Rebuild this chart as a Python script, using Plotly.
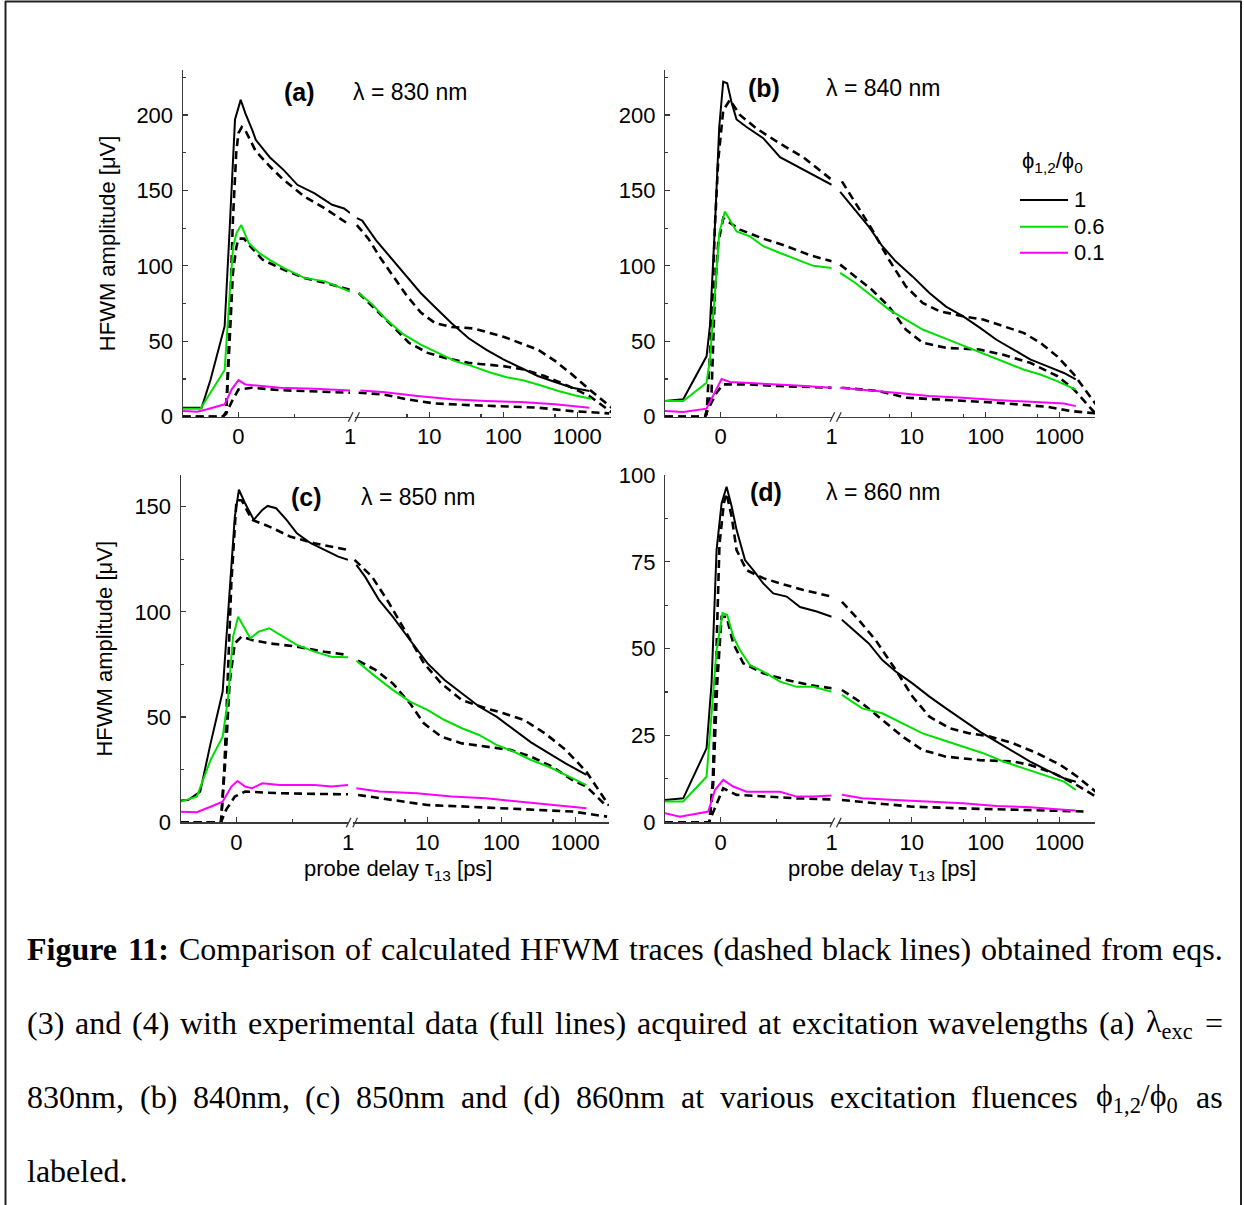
import plotly.graph_objects as go

W, H = 1244, 1205

# ---------------- data (probe delay in ps, amplitude in microvolt) ----------------
# Panel (a) 830 nm
A_T_BLACK = [-0.5, -0.33, -0.25, -0.124, -0.078, -0.031, 0.02, 0.062, 0.124, 0.155, 0.28, 0.404, 0.528, 0.683, 0.84, 0.947, 1.0,
             1.05, 1.24, 1.9, 2.92, 4.48, 7.65, 11.7, 20, 34, 58.5, 100, 171, 292, 499, 852, 1456]
A_Y_BLACK = [6, 6, 24.7, 60, 126, 197, 210, 201, 190, 183.5, 172, 163.6, 153.7, 148, 140.5, 138, 135,
             131.6, 130, 117, 106, 95, 82, 73, 62, 52, 44.5, 38, 32.4, 27, 23, 19.2, 17]
A_T_GREEN = [-0.5, -0.34, -0.25, -0.124, -0.078, -0.047, -0.016, 0.025, 0.093, 0.186, 0.28, 0.404, 0.59, 0.776, 1.0,
             1.11, 1.71, 2.62, 4.48, 7.65, 13, 22.4, 38, 65, 111, 190, 324, 553, 945, 1530]
A_Y_GREEN = [5.3, 5.3, 16, 31, 82, 113, 122, 127, 115, 108.5, 104, 98.6, 92, 89.7, 83,
             82, 74.3, 64.4, 54.5, 47.8, 42.3, 36.8, 33.5, 29.5, 26.2, 24, 20.7, 17, 14, 11.9]
A_T_MAG = [-0.5, -0.37, -0.28, -0.124, -0.062, 0.0, 0.062, 0.155, 0.37, 0.683, 1.0,
           1.17, 2.36, 6.87, 20, 58.5, 171, 499, 1456]
A_Y_MAG = [3.7, 3.3, 4.9, 8.2, 18, 24.3, 21.4, 20.7, 19.2, 18.5, 17.4,
           17.4, 16.3, 13.7, 11.5, 10.4, 9.7, 8.2, 6]
A_T_CALC1 = [-0.5, -0.14, -0.11, -0.08, -0.05, -0.02, 0.0, 0.03, 0.06, 0.155, 0.28, 0.404, 0.59, 0.776, 1.0,
             1.05, 1.5, 2.2, 3.4, 5, 7.7, 12, 20, 40, 100, 292, 500, 850, 1456, 2900]
A_Y_CALC1 = [0, 0, 3, 60, 130, 175, 188, 192, 190, 176, 166, 157, 146, 138, 127,
             127, 118, 105, 92, 80, 69, 62, 59.5, 58.5, 53, 44.5, 37, 28, 18, 6]
A_T_CALC2 = [-0.5, -0.14, -0.11, -0.08, -0.05, -0.02, 0.0, 0.05, 0.093, 0.217, 0.404, 0.59, 0.84, 1.0,
             1.11, 1.9, 3.2, 5.3, 9.5, 16, 34, 100, 190, 360, 680, 1456, 2900]
A_Y_CALC2 = [0, 0, 3, 50, 95, 112, 118, 118, 114, 104, 97.5, 92, 87.5, 84,
             82, 71, 60, 49, 42.3, 39, 35.7, 33.5, 31.3, 27, 21.4, 13.7, 3]
A_T_CALC3 = [-0.5, -0.14, -0.11, -0.06, 0.0, 0.12, 0.37, 0.683, 1.0,
             1.11, 2.36, 5, 11.7, 34, 100, 292, 850, 2700]
A_Y_CALC3 = [0, 0, 2, 10, 18, 19.2, 17.6, 17, 15.9,
             15.9, 14.8, 11.5, 8.8, 7.7, 7, 6, 3.7, 2.2]

# Panel (b) 840 nm
B_T_BLACK = [-0.5, -0.336, -0.126, -0.096, -0.051, -0.012, 0.024, 0.06, 0.1, 0.144, 0.234, 0.384, 0.535, 0.685, 0.835, 1.0,
             1.07, 1.72, 2.61, 3.98, 6.04, 10.2, 17.3, 29, 49, 83, 140, 238, 400, 676, 1146, 1660]
B_Y_BLACK = [10.4, 11.5, 40, 60, 126, 192, 222, 221, 208, 197, 192, 184.6, 172, 166, 160, 153.7,
             149, 137, 126, 113, 103, 93, 82, 73, 66.6, 59, 51, 44.5, 38, 33.5, 29, 24.7]
B_T_GREEN = [-0.5, -0.336, -0.126, -0.096, -0.051, -0.012, 0.039, 0.084, 0.144, 0.264, 0.384, 0.535, 0.685, 0.835, 1.0,
             1.07, 1.72, 2.9, 4.9, 8.3, 14, 23.6, 40, 67, 114, 192, 325, 550, 930, 1660]
B_Y_GREEN = [10.4, 10.4, 22.5, 38, 82, 121.7, 136, 130.5, 122.8, 119.5, 113, 108.5, 104, 100, 98.6,
             95.3, 88.6, 79.8, 71, 64.4, 57.8, 53.4, 49, 44.5, 40, 35.7, 31.3, 28, 23.6, 18]
B_T_MAG = [-0.5, -0.336, -0.126, -0.066, 0.009, 0.084, 0.234, 0.444, 0.685, 1.0,
           1.07, 2.12, 6, 17, 49, 140, 400, 1146, 1660]
B_Y_MAG = [3.7, 3.1, 5.3, 13.7, 25, 23, 22.5, 21.4, 20.7, 19.2,
           19.2, 18, 15.9, 13.7, 12.6, 11, 9.7, 8.8, 7]
B_T_CALC1 = [-0.5, -0.14, -0.126, -0.081, -0.051, -0.021, 0.024, 0.084, 0.174, 0.324, 0.535, 0.745, 1.0,
             1.13, 1.72, 2.9, 4.9, 8.3, 14, 23.6, 49, 92, 173, 325, 550, 930, 1570, 3100]
B_Y_CALC1 = [0, 0, 1.5, 60, 126, 170, 203, 210, 200, 191, 181, 172, 157,
             156, 142, 124, 104, 86.4, 75.4, 70, 66.6, 64.4, 60, 55.6, 49, 40, 28, 8.2]
B_T_CALC2 = [-0.5, -0.14, -0.081, -0.051, -0.021, 0.024, 0.174, 0.384, 0.595, 0.805, 1.0,
             1.07, 1.72, 2.9, 4.9, 8.3, 14, 29, 83, 173, 400, 930, 1570, 3000]
B_Y_CALC2 = [0, 0, 16, 82, 115, 131.6, 124, 118, 113, 107, 103,
             100.8, 93, 84, 73, 57.8, 49, 45.6, 44.5, 41, 35.7, 27, 18, 2.6]
B_T_CALC3 = [-0.5, -0.14, -0.111, -0.036, 0.024, 0.234, 0.535, 1.0,
             1.13, 3.58, 8.3, 29, 140, 676, 1440, 3100]
B_Y_CALC3 = [0, 0, 5, 16, 21.4, 21.4, 20.3, 19.2,
             19.2, 17, 12.6, 11, 9.3, 6.6, 3.7, 2.2]

# Panel (c) 850 nm
C_T_BLACK = [-0.5, -0.433, -0.325, -0.232, -0.124, -0.077, -0.015, 0.022, 0.077, 0.155, 0.232, 0.279, 0.356, 0.449, 0.542,
             0.666, 0.789, 0.913, 1.0,
             1.1, 1.44, 2.22, 3.41, 5.83, 10, 17.1, 29.3, 50, 86, 147, 252, 430, 737, 1413]
C_Y_BLACK = [10.3, 10.6, 14.6, 37.5, 62, 97.7, 145, 158, 151.6, 143.7, 148.4, 150.3, 149.2, 143.7, 137.3,
             132.6, 129.4, 126.2, 124.7,
             122.3, 116.7, 105.7, 97.7, 86.6, 75.6, 67.6, 61.3, 55, 50.2, 44, 38, 33, 28, 22.5]
C_T_GREEN = [-0.5, -0.356, -0.232, -0.124, -0.077, -0.031, 0.015, 0.062, 0.124, 0.2, 0.294, 0.418, 0.542, 0.697, 0.851, 1.0,
             1.1, 2, 3.41, 5.83, 10, 17.1, 29.3, 50, 86, 147, 252, 430, 737, 1413]
C_Y_GREEN = [9.8, 12.2, 29.6, 40.7, 58, 88, 97.7, 93, 87.4, 90.6, 92.2, 88.2, 84.3, 81.1, 78.7, 78.4,
             76.8, 69.2, 62.9, 57.3, 53.4, 48.6, 44.7, 41.5, 36.8, 33.6, 29.6, 26.5, 22.5, 17.7]
C_T_MAG = [-0.5, -0.356, -0.232, -0.124, -0.046, 0.009, 0.077, 0.139, 0.232, 0.387, 0.542, 0.697, 0.851, 1.0,
           1.1, 2.24, 7.2, 21.2, 62, 183, 536, 1413]
C_Y_MAG = [5, 4.8, 7.4, 9.8, 17, 19.6, 17, 16.2, 18.5, 17.7, 17.7, 17.7, 17, 17.7,
           16.2, 14.6, 13.8, 12.2, 11.4, 9.8, 8.2, 6.7]
C_T_CALC1 = [-0.5, -0.139, -0.108, -0.077, -0.046, 0.0, 0.046, 0.139, 0.294, 0.48, 0.697, 1.0,
             1.04, 1.79, 3.06, 5.24, 8.98, 15.4, 29.3, 62, 107, 203, 388, 741, 1413, 2840]
C_Y_CALC1 = [0, 0, 26.5, 66, 113.6, 153, 153, 143.7, 140.5, 135.8, 132.6, 129.4,
             124.7, 116.7, 104, 89.8, 75.6, 66, 58, 54.2, 51.8, 48.6, 42.3, 34.4, 24, 8]
C_T_CALC2 = [-0.5, -0.139, -0.093, -0.062, -0.015, 0.046, 0.139, 0.294, 0.542, 0.789, 1.0,
             1.16, 1.99, 3.41, 5.84, 8.98, 15.4, 29.3, 62, 132, 252, 481, 918, 1413, 2415]
C_Y_CALC2 = [0, 0, 34.4, 66, 85, 88.2, 86.6, 85, 83.5, 81, 79.5,
             76.8, 72.4, 66, 56.5, 47, 40.7, 37.5, 36, 34.4, 31.2, 26.5, 20, 17, 9]
C_T_CALC3 = [-0.5, -0.139, -0.093, -0.015, 0.077, 0.387, 0.697, 1.0,
             1.16, 3.41, 10, 36.3, 107, 312, 918, 2690]
C_Y_CALC3 = [0, 0, 5.9, 12.2, 14.6, 13.8, 13.5, 13.3,
             13, 10.6, 8.2, 7.4, 6.7, 5.9, 5.1, 2.7]

# Panel (d) 860 nm
D_T_BLACK = [-0.5, -0.336, -0.126, -0.081, -0.036, 0.009, 0.054, 0.1, 0.144, 0.22, 0.294, 0.384, 0.474, 0.595, 0.715, 0.865, 1.0,
             1.13, 1.72, 2.61, 3.98, 6.04, 10.2, 17.3, 29, 49, 83, 140, 238, 400, 676, 1146, 1660]
D_Y_BLACK = [6.4, 6.9, 21.3, 40, 78.4, 91.8, 96.6, 90.9, 84.2, 75.5, 72.6, 68.8, 65.9, 65, 62, 60.7, 59.2,
             58.3, 55, 51.5, 46.7, 43.4, 40, 36.2, 32.8, 29.5, 26.1, 23.2, 20.3, 17.5, 15, 12.7, 11.7]
D_T_GREEN = [-0.5, -0.336, -0.126, -0.081, -0.036, 0.018, 0.06, 0.114, 0.174, 0.264, 0.384, 0.535, 0.685, 0.835, 1.0,
             1.13, 2.12, 3.98, 7.45, 14, 26.3, 49, 92.5, 173, 325, 611, 1146, 1660]
D_Y_GREEN = [6, 6, 13.1, 30.4, 49.6, 60.2, 59.7, 53.5, 49.6, 45.3, 43.4, 40.5, 39, 39, 37.6,
             36.7, 32.8, 31.4, 28.5, 25.6, 23.7, 21.8, 19.9, 17.5, 15.5, 13.6, 11.7, 9.3]
D_T_MAG = [-0.5, -0.366, -0.111, -0.051, 0.024, 0.114, 0.234, 0.384, 0.535, 0.685, 0.835, 1.0,
           1.13, 2.12, 6.04, 17.3, 49, 140, 400, 1146, 1660]
D_Y_MAG = [2.6, 1.6, 3.1, 9.3, 12.2, 10.3, 8.8, 8.8, 8.8, 7.4, 7.4, 7.7,
           7.9, 6.9, 6.4, 6, 5.5, 4.7, 4.3, 3.6, 3.4]
D_T_CALC1 = [-0.5, -0.1, -0.07, -0.04, -0.01, 0.03, 0.054, 0.1, 0.144, 0.234, 0.384, 0.535, 0.745, 1.0,
             1.13, 1.9, 3.22, 6.04, 10.2, 17.3, 32.4, 60.8, 114, 238, 495, 1033, 1746, 3100]
D_Y_CALC1 = [0, 0, 12, 50, 80, 92, 94.7, 88, 78.4, 72.6, 70.3, 68.8, 66.9, 65,
             63.5, 58.3, 52.5, 43.9, 36.2, 30.4, 27.1, 25.6, 24.7, 22.7, 19.9, 16.5, 13.1, 8.8]
D_T_CALC2 = [-0.5, -0.1, -0.066, -0.03, 0.009, 0.054, 0.114, 0.204, 0.384, 0.595, 0.805, 1.0,
             1.13, 2.12, 3.98, 7.45, 14, 29, 83, 238, 400, 837, 1567, 3100]
D_Y_CALC2 = [0, 0, 11.2, 40, 59.2, 59.2, 51.5, 45.8, 42.9, 41, 39.5, 38.6,
             38.1, 34.3, 29.5, 24.7, 20.8, 18.9, 17.9, 17.5, 16.5, 14.1, 11.2, 7.4]
D_T_CALC3 = [-0.5, -0.1, -0.096, -0.036, 0.024, 0.144, 0.384, 0.685, 1.0,
             1.13, 3.58, 10.2, 49, 238, 1146, 2280]
D_Y_CALC3 = [0, 0, 0.7, 5.5, 9.8, 7.9, 7.4, 6.9, 6.6,
             6.4, 5.5, 4.5, 4, 3.6, 3.3, 3.1]

PANEL_KEYS = ["a", "b", "c", "d"]
PANEL_WAVELENGTHS = ["830", "840", "850", "860"]
Y_MAX = [230, 230, 165, 100]
Y_MAJOR = [[0, 50, 100, 150, 200], [0, 50, 100, 150, 200], [0, 50, 100, 150], [0, 25, 50, 75, 100]]
Y_MINOR = [[25, 75, 125, 175, 225], [25, 75, 125, 175, 225], [25, 75, 125], [12.5, 37.5, 62.5, 87.5]]
X_LIN_TICKS = [0, 1]
X_LIN_MINOR = [0.5]
X_LOG_TICKS = [10, 100, 1000]
X_LOG_MINOR = [5, 50, 500]
LEGEND_LABELS = ["1", "0.6", "0.1"]

SERIES = {
    "a": [(A_T_BLACK, A_Y_BLACK, 0), (A_T_GREEN, A_Y_GREEN, 1), (A_T_MAG, A_Y_MAG, 2),
          (A_T_CALC1, A_Y_CALC1, 3), (A_T_CALC2, A_Y_CALC2, 3), (A_T_CALC3, A_Y_CALC3, 3)],
    "b": [(B_T_BLACK, B_Y_BLACK, 0), (B_T_GREEN, B_Y_GREEN, 1), (B_T_MAG, B_Y_MAG, 2),
          (B_T_CALC1, B_Y_CALC1, 3), (B_T_CALC2, B_Y_CALC2, 3), (B_T_CALC3, B_Y_CALC3, 3)],
    "c": [(C_T_BLACK, C_Y_BLACK, 0), (C_T_GREEN, C_Y_GREEN, 1), (C_T_MAG, C_Y_MAG, 2),
          (C_T_CALC1, C_Y_CALC1, 3), (C_T_CALC2, C_Y_CALC2, 3), (C_T_CALC3, C_Y_CALC3, 3)],
    "d": [(D_T_BLACK, D_Y_BLACK, 0), (D_T_GREEN, D_Y_GREEN, 1), (D_T_MAG, D_Y_MAG, 2),
          (D_T_CALC1, D_Y_CALC1, 3), (D_T_CALC2, D_Y_CALC2, 3), (D_T_CALC3, D_Y_CALC3, 3)],
}

CAPTION_LINES = [
    "<b>Figure</b> <b>11:</b> Comparison of calculated HFWM traces (dashed black lines) obtained from eqs.",
    "(3) and (4) with experimental data (full lines) acquired at excitation wavelengths (a) λ<sub>exc</sub> =",
    "830nm, (b) 840nm, (c) 850nm and (d) 860nm at various excitation fluences ϕ<sub>1,2</sub>/ϕ<sub>0</sub> as",
    "labeled.",
]

# ---------------- styling / geometry (pixels) ----------------
BLACK, GREEN, MAGENTA = "#000000", "#00e000", "#ff00ff"
STYLES = [dict(color=BLACK, width=2.0), dict(color=GREEN, width=2.0), dict(color=MAGENTA, width=2.0),
          dict(color=BLACK, width=2.6, dash="8px,5px")]
AXIS_COLOR = "#3a3a3a"
SANS = "Liberation Sans, Arial, sans-serif"
SERIF = "Liberation Serif, Times New Roman, serif"

GEOM = {
    "a": dict(lin=(182.7, 350.0), log=(355.3, 611.0), logmax=3.455, y=(69.7, 416.7)),
    "b": dict(lin=(665.0, 831.7), log=(838.0, 1095.0), logmax=3.48, y=(69.7, 416.7)),
    "c": dict(lin=(180.7, 348.0), log=(353.3, 609.0), logmax=3.455, y=(475.0, 822.3)),
    "d": dict(lin=(665.0, 831.7), log=(838.0, 1095.0), logmax=3.48, y=(475.0, 822.3)),
}


def px(x):
    return x / W


def py(y):
    return 1 - y / H


fig = go.Figure()
layout = dict(width=W, height=H, margin=dict(l=0, r=0, t=0, b=0, pad=0, autoexpand=False), autosize=False,
              paper_bgcolor="white", plot_bgcolor="rgba(0,0,0,0)", showlegend=False,
              font=dict(family=SANS, size=22, color="black"))
annotations = []
shapes = []

axis_common = dict(showgrid=False, zeroline=False, showline=True, linecolor=AXIS_COLOR, linewidth=1.2,
                   ticks="inside", ticklen=5, tickwidth=1.2, tickcolor=AXIS_COLOR,
                   tickfont=dict(family=SANS, size=22, color="black"))

for i, key in enumerate(PANEL_KEYS):
    g = GEOM[key]
    xl, xg, yk = 2 * i + 1, 2 * i + 2, i + 1
    xl_name = "xaxis" if xl == 1 else f"xaxis{xl}"
    xg_name = f"xaxis{xg}"
    y_name = "yaxis" if yk == 1 else f"yaxis{yk}"
    xl_ref = "x" if xl == 1 else f"x{xl}"
    xg_ref = f"x{xg}"
    y_ref = "y" if yk == 1 else f"y{yk}"
    ydom = [py(g["y"][1]), py(g["y"][0])]

    layout[xl_name] = dict(axis_common, domain=[px(g["lin"][0]), px(g["lin"][1])], range=[-0.5, 1],
                           anchor=y_ref, tickmode="array", tickvals=X_LIN_TICKS,
                           ticktext=[str(v) for v in X_LIN_TICKS],
                           minor=dict(tickmode="array", tickvals=X_LIN_MINOR, ticks="inside", ticklen=3,
                                      tickcolor=AXIS_COLOR, tickwidth=1.2))
    layout[xg_name] = dict(axis_common, domain=[px(g["log"][0]), px(g["log"][1])], type="log",
                           range=[0, g["logmax"]], anchor=y_ref, tickmode="array", tickvals=X_LOG_TICKS,
                           ticktext=[str(v) for v in X_LOG_TICKS],
                           minor=dict(tickmode="array", tickvals=X_LOG_MINOR, ticks="inside", ticklen=3,
                                      tickcolor=AXIS_COLOR, tickwidth=1.2))
    layout[y_name] = dict(axis_common, domain=ydom, range=[0, Y_MAX[i]], anchor=xl_ref,
                          tickmode="array", tickvals=Y_MAJOR[i], ticktext=[str(v) for v in Y_MAJOR[i]],
                          ticklabelstandoff=4,
                          minor=dict(tickmode="array", tickvals=Y_MINOR[i], ticks="inside", ticklen=3,
                                     tickcolor=AXIS_COLOR, tickwidth=1.2))

    # traces: calculated (dashed) first, experimental lines on top
    for si in [3, 4, 5, 0, 1, 2]:
        ts, ys, st = SERIES[key][si]
        lin_t = [t for t in ts if t <= 1.0]
        lin_y = [y for t, y in zip(ts, ys) if t <= 1.0]
        log_t = [t for t in ts if t > 1.0]
        log_y = [y for t, y in zip(ts, ys) if t > 1.0]
        fig.add_trace(go.Scatter(x=lin_t, y=lin_y, mode="lines", line=STYLES[st], xaxis=xl_ref, yaxis=y_ref,
                                 hoverinfo="skip"))
        fig.add_trace(go.Scatter(x=log_t, y=log_y, mode="lines", line=STYLES[st], xaxis=xg_ref, yaxis=y_ref,
                                 hoverinfo="skip"))

    # axis break marks "//"
    ax_y = g["y"][1]
    xe = g["lin"][1]
    for dx in (0.0, 6.5):
        shapes.append(dict(type="line", xref="paper", yref="paper",
                           x0=px(xe - 1.7 + dx), y0=py(ax_y + 5), x1=px(xe + 3.0 + dx), y1=py(ax_y - 4.5),
                           line=dict(color=AXIS_COLOR, width=1.3)))

# panel labels
LABEL_POS = {"a": ((299, 92), (410, 92)), "b": ((763.5, 88.5), (882.5, 88.5)),
             "c": ((306, 497), (418, 497)), "d": ((766, 492), (883, 492))}
for key, wl in zip(PANEL_KEYS, PANEL_WAVELENGTHS):
    (lx, ly), (wx, wy) = LABEL_POS[key]
    annotations.append(dict(x=px(lx), y=py(ly), xref="paper", yref="paper", showarrow=False,
                            text=f"<b>({key})</b>", font=dict(family=SANS, size=25, color="black"),
                            xanchor="center", yanchor="middle"))
    annotations.append(dict(x=px(wx), y=py(wy), xref="paper", yref="paper", showarrow=False,
                            text=f"λ = {wl} nm", font=dict(family=SANS, size=23, color="black"),
                            xanchor="center", yanchor="middle"))

# axis titles
for (tx, ty) in [(107, 243.2), (105, 648.6)]:
    annotations.append(dict(x=px(tx), y=py(ty), xref="paper", yref="paper", showarrow=False,
                            text="HFWM amplitude [μV]", textangle=-90,
                            font=dict(family=SANS, size=22, color="black"), xanchor="center", yanchor="middle"))
for tx in (398, 882):
    annotations.append(dict(x=px(tx), y=py(870), xref="paper", yref="paper", showarrow=False,
                            text="probe delay τ<sub>13</sub> [ps]",
                            font=dict(family=SANS, size=22, color="black"), xanchor="center", yanchor="middle"))

# legend in panel (b)
annotations.append(dict(x=px(1020), y=py(161.7), xref="paper", yref="paper", showarrow=False,
                        text="ϕ<sub>1,2</sub>/ϕ<sub>0</sub>", font=dict(family=SANS, size=22, color="black"),
                        xanchor="left", yanchor="middle"))
for j, (lab, col) in enumerate(zip(LEGEND_LABELS, [BLACK, GREEN, MAGENTA])):
    yy = [200, 226.7, 252.7][j]
    shapes.append(dict(type="line", xref="paper", yref="paper", x0=px(1020), x1=px(1068), y0=py(yy), y1=py(yy),
                       line=dict(color=col, width=2)))
    annotations.append(dict(x=px(1072), y=py(yy), xref="paper", yref="paper", showarrow=False, text=lab,
                            font=dict(family=SANS, size=22, color="black"), xanchor="left", yanchor="middle"))

# ---------------- caption (justified) ----------------
TIMES = {" ": 250, "(": 333, ")": 333, ",": 250, ".": 250, "/": 278, ":": 278, "=": 564, "λ": 550, "ϕ": 600}
for ch, w in zip("ABCDEFGHIJKLMNOPQRSTUVWXYZ",
                 [722, 667, 667, 722, 611, 556, 722, 722, 333, 389, 722, 611, 889, 722, 722, 556, 722, 667, 556,
                  611, 722, 722, 944, 722, 722, 611]):
    TIMES[ch] = w
for ch, w in zip("abcdefghijklmnopqrstuvwxyz",
                 [444, 500, 444, 500, 444, 333, 500, 500, 278, 278, 500, 278, 778, 500, 500, 500, 500, 333, 389,
                  278, 500, 500, 722, 500, 500, 444]):
    TIMES[ch] = w
for ch in "0123456789":
    TIMES[ch] = 500
TIMES_B = {"F": 611, "i": 278, "g": 500, "u": 556, "r": 444, "e": 444, "1": 500, ":": 333}


def word_width(html, fs):
    i, bold, sub, w = 0, False, False, 0.0
    while i < len(html):
        for tag, attr, val in (("<b>", "b", True), ("</b>", "b", False), ("<sub>", "s", True), ("</sub>", "s", False)):
            if html.startswith(tag, i):
                if attr == "b":
                    bold = val
                else:
                    sub = val
                i += len(tag)
                break
        else:
            ch = html[i]
            cw = TIMES_B.get(ch, TIMES.get(ch, 500)) if bold else TIMES.get(ch, 500)
            w += cw * (0.7 if sub else 1.0)
            i += 1
    return w / 1000.0 * fs


CAP_FS = 32
CAP_L, CAP_R = 27.0, 1222.7
CAP_BASE = [959, 1033, 1107, 1181]
for li, line in enumerate(CAPTION_LINES):
    words = line.split(" ")
    widths = [word_width(wd, CAP_FS) for wd in words]
    if li < len(CAPTION_LINES) - 1:
        gap = (CAP_R - CAP_L - sum(widths)) / (len(words) - 1)
    else:
        gap = 0.25 * CAP_FS
    x = CAP_L
    yc = CAP_BASE[li] - 0.3 * CAP_FS
    for wd, ww in zip(words, widths):
        annotations.append(dict(x=px(x + ww / 2), y=py(yc), xref="paper", yref="paper", showarrow=False,
                                text=wd, font=dict(family=SERIF, size=CAP_FS, color="black"),
                                xanchor="center", yanchor="middle", borderpad=0))
        x += ww + gap

# frame around the figure
frame = dict(color="#222222", width=2)
shapes.append(dict(type="line", xref="paper", yref="paper", x0=px(5), x1=px(1241.5), y0=py(1.5), y1=py(1.5), line=frame))
shapes.append(dict(type="line", xref="paper", yref="paper", x0=px(5.5), x1=px(5.5), y0=py(1), y1=py(1210), line=frame))
shapes.append(dict(type="line", xref="paper", yref="paper", x0=px(1241), x1=px(1241), y0=py(1), y1=py(1210), line=frame))

layout["annotations"] = annotations
layout["shapes"] = shapes
fig.update_layout(**layout)

PIN_PAGE = ("document.body.style.margin='0px';document.body.style.overflow='hidden';"
            "var gd=document.getElementById('{plot_id}');"
            "gd.style.position='fixed';gd.style.left='0px';gd.style.top='0px';")
fig.write_html("out.html", config={"displayModeBar": False, "staticPlot": True}, post_script=PIN_PAGE)
